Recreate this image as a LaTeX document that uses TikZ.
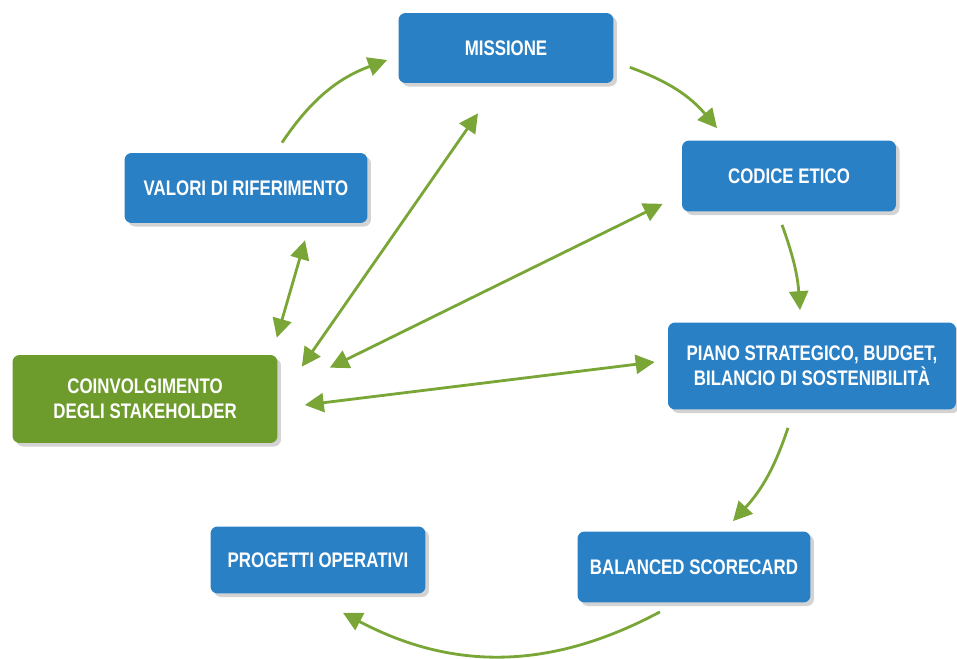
\documentclass[tikz,border=0pt]{standalone}
\usepackage{fontspec}
\setmainfont{Liberation Sans}[FakeStretch=0.8]
\usetikzlibrary{arrows.meta,shadows}
\definecolor{boxblue}{HTML}{2A80C5}
\definecolor{boxgreen}{HTML}{6D9B2C}
\definecolor{flowgreen}{HTML}{7AA637}

\begin{document}
\begin{tikzpicture}[x=0.02cm, y=-0.02cm,
    box/.style={rounded corners=4pt, fill=boxblue, text=white, font=\bfseries\fontsize{12}{14}\selectfont, align=center, inner sep=0pt, drop shadow={opacity=0.35, shadow xshift=2pt, shadow yshift=-2pt}},
    greenbox/.style={box, fill=boxgreen},
    flow/.style={draw=flowgreen, line width=1.6pt, -{Triangle[length=0.38cm, width=0.38cm]}},
    twoway/.style={flow, {Triangle[length=0.38cm, width=0.38cm]}-{Triangle[length=0.38cm, width=0.38cm]}}]
  \useasboundingbox (0,0) rectangle (957,659);

  \node[box, minimum width=4.3cm, minimum height=1.4cm]        (mis) at (506,48)  {MISSIONE};
  \node[box, minimum width=4.28cm, minimum height=1.42cm]      (cod) at (789,176) {CODICE ETICO};
  \node[box, minimum width=5.76cm, minimum height=1.74cm]      (pia) at (812,366) {PIANO STRATEGICO, BUDGET,\\BILANCIO DI SOSTENIBILITÀ};
  \node[box, minimum width=4.66cm, minimum height=1.42cm]      (bal) at (694,567) {BALANCED SCORECARD};
  \node[box, minimum width=4.3cm, minimum height=1.34cm]       (pro) at (318,560) {PROGETTI OPERATIVI};
  \node[box, minimum width=4.86cm, minimum height=1.4cm]       (val) at (246,188) {VALORI DI RIFERIMENTO};
  \node[greenbox, minimum width=5.3cm, minimum height=1.76cm]  (coi) at (145,399) {COINVOLGIMENTO\\DEGLI STAKEHOLDER};

  % cycle
  \draw[flow] ([shift={(36,-10)}]val.north) to[bend left=18] ([shift={(-11,12)}]mis.west);
  \draw[flow] ([shift={(16,-16)}]mis.south east) to[bend left=15] ([shift={(-72,-12)}]cod.north);
  \draw[flow] ([shift={(-7,13)}]cod.south) to[bend left=8] ([shift={(-12,-12)}]pia.north);
  \draw[flow] ([shift={(-24,18)}]pia.south) to[bend left=12] ([shift={(39,-10)}]bal.north);
  \draw[flow] ([shift={(-34,9)}]bal.south) to[bend left=28] ([shift={(25,19)}]pro.south);

  % links with the stakeholders
  \draw[twoway] ([shift={(-1,-17)}]coi.north east) -- ([shift={(59,17)}]val.south);
  \draw[twoway] ([shift={(24,12)}]coi.north east) -- ([shift={(-28,30)}]mis.south);
  \draw[twoway] ([shift={(52,13)}]coi.north east) -- ([shift={(-19,-8)}]cod.south west);
  \draw[twoway] ([shift={(27,6)}]coi.east) -- ([shift={(-13,-4)}]pia.west);
\end{tikzpicture}
\end{document}
